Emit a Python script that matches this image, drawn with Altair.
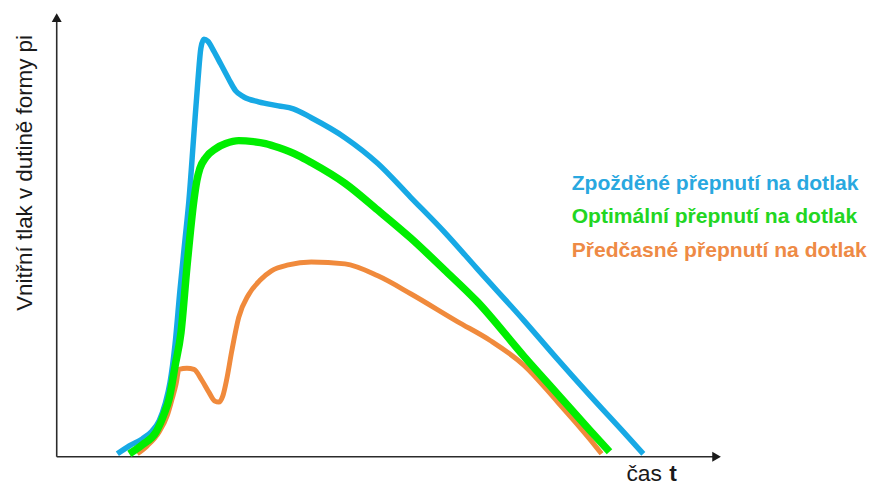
import altair as alt
import pandas as pd

# ---- labels ----
series_names = [
    "Zpožděné přepnutí na dotlak",
    "Optimální přepnutí na dotlak",
    "Předčasné přepnutí na dotlak",
]
line_colors = ["#17A9E5", "#00EE00", "#F08A3C"]
text_colors = ["#29A8DF", "#22D622", "#EE8A45"]
stroke_widths = [5.5, 7.5, 5]

x_label = "čas"
x_label_bold = "t"
y_label = "Vnitřní tlak v dutině formy pi"

# ---- axis extents (chart units: time t, pressure p) ----
t_max = 668
p_max = 446

# ---- curves ----
blue_t = [61, 73, 86, 96, 103, 109, 114, 119, 124, 129, 133, 138, 142, 145, 148, 152,
          158, 165, 173, 180, 188, 203, 223, 238, 256, 290, 323, 356, 390, 423, 470,
          503, 536, 570, 590]
blue_p = [3, 11, 18, 26, 36, 53, 75, 113, 168, 218, 258, 325, 378, 411, 420, 418,
          408, 395, 380, 368, 362, 357, 353, 350, 341, 321, 295, 261, 226, 189, 137,
          99, 62, 25, 3]

green_t = [73, 86, 100, 108, 113, 119, 125, 131, 138, 141, 144, 150, 160, 170, 183,
           198, 210, 223, 243, 256, 290, 323, 356, 390, 423, 470, 503, 536, 556]
green_p = [3, 12, 25, 43, 58, 91, 125, 191, 258, 278, 290, 301, 310, 315, 318,
           317, 315, 311, 303, 296, 275, 248, 220, 188, 156, 101, 64, 27, 5]

orange_t = [81, 91, 103, 111, 116, 120, 123, 131, 138, 146, 153, 159, 163, 167, 171,
            176, 183, 193, 205, 216, 233, 256, 290, 323, 356, 403, 436, 470, 503,
            536, 548]
orange_p = [3, 11, 25, 41, 58, 73, 88, 89, 88, 77, 65, 56, 55, 61, 78,
            106, 140, 163, 178, 187, 193, 196, 194, 182, 164, 136, 117, 92, 56,
            18, 3]

xs = alt.Scale(domain=[0, t_max], nice=False, zero=False)
ys = alt.Scale(domain=[0, p_max], nice=False, zero=False)

layers = []

# axes with arrows
axes_df = pd.DataFrame({
    "t": [0, 0], "t2": [t_max - 6, 0],
    "p": [0, 0], "p2": [0, p_max - 6],
})
layers.append(
    alt.Chart(axes_df).mark_rule(color="#2b2b2b", strokeWidth=1.6).encode(
        x=alt.X("t:Q", scale=xs, axis=None), x2="t2:Q",
        y=alt.Y("p:Q", scale=ys, axis=None), y2="p2:Q",
    )
)
arrow_df = pd.DataFrame({
    "t": [t_max - 4.3, 0], "p": [0, p_max - 4.3],
    "shape": ["triangle-right", "triangle-up"],
})
layers.append(
    alt.Chart(arrow_df).mark_point(filled=True, size=100, color="#1a1a1a", opacity=1).encode(
        x=alt.X("t:Q", scale=xs, axis=None),
        y=alt.Y("p:Q", scale=ys, axis=None),
        shape=alt.Shape("shape:N", scale=None),
    )
)

# curves (drawn blue, orange, green)
curves = [
    (blue_t, blue_p, 0),
    (orange_t, orange_p, 2),
    (green_t, green_p, 1),
]
for tt, pp, i in curves:
    df = pd.DataFrame({"t": tt, "p": pp})
    layers.append(
        alt.Chart(df).mark_line(
            color=line_colors[i], strokeWidth=stroke_widths[i],
            interpolate="monotone", strokeJoin="round",
        ).encode(
            x=alt.X("t:Q", scale=xs, axis=None),
            y=alt.Y("p:Q", scale=ys, axis=None),
        )
    )

# legend texts
for name, col, ypos in zip(series_names, text_colors, [177.5, 210.5, 245.5]):
    layers.append(
        alt.Chart(pd.DataFrame({"label": [name]})).mark_text(
            align="left", baseline="alphabetic", font="Liberation Sans",
            fontWeight="bold", fontSize=21.2, color=col,
        ).encode(x=alt.value(518), y=alt.value(ypos), text="label:N")
    )

# axis titles
layers.append(
    alt.Chart(pd.DataFrame({"label": [x_label]})).mark_text(
        align="left", baseline="alphabetic", font="Liberation Sans",
        fontSize=23, color="#1a1a1a",
    ).encode(x=alt.value(573), y=alt.value(470), text="label:N")
)
layers.append(
    alt.Chart(pd.DataFrame({"label": [x_label_bold]})).mark_text(
        align="left", baseline="alphabetic", font="Liberation Sans",
        fontSize=23, fontWeight="bold", color="#1a1a1a",
    ).encode(x=alt.value(616), y=alt.value(470), text="label:N")
)
layers.append(
    alt.Chart(pd.DataFrame({"label": [y_label]})).mark_text(
        align="center", baseline="alphabetic", font="Liberation Sans",
        fontSize=22.5, angle=270, color="#1a1a1a",
    ).encode(x=alt.value(-25), y=alt.value(160.5), text="label:N")
)

chart = alt.layer(*layers).properties(
    width=668, height=446,
    padding={"left": 49, "top": 4, "right": 148, "bottom": 28},
    autosize="none",
).configure_view(stroke=None)

chart.save("out.html", embed_options={"renderer": "svg", "actions": False})
